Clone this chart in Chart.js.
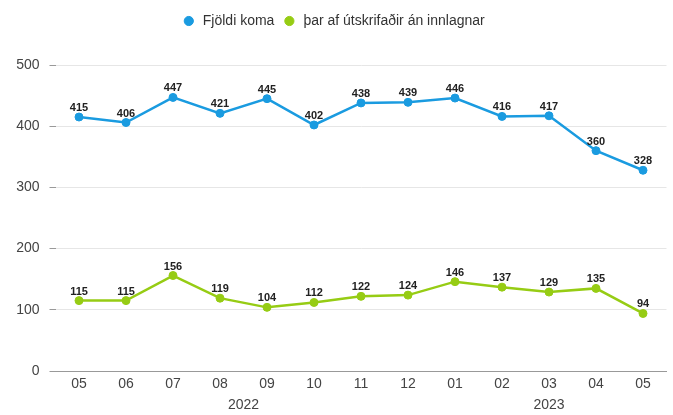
<!DOCTYPE html>
<html>
<head>
<meta charset="utf-8">
<script src="https://cdn.jsdelivr.net/npm/chart.js@4.4.1/dist/chart.umd.min.js"></script>
<style>
html,body{margin:0;padding:0;background:#fff;}
#wrap{width:673px;height:415px;position:relative;}
</style>
</head>
<body>
<div id="wrap"><canvas id="c" width="673" height="415"></canvas></div>
<script>
const categories = ['05','06','07','08','09','10','11','12','01','02','03','04','05'];
const seriesNames = ['Fjöldi koma', 'þar af útskrifaðir án innlagnar'];
const visits = [415,406,447,421,445,402,438,439,446,416,417,360,328];
const discharged = [115,115,156,119,104,112,122,124,146,137,129,135,94];
const yearLabels = ['2022','2023'];
const yearStart = [0,8];
const yearEnd = [7,12];
const yTicks = [0,100,200,300,400,500];

const FONT = "'Liberation Sans', Arial, sans-serif";

const legendSpacer = {
  id:'legendSpacer',
  beforeInit(chart){
    const fit = chart.legend.fit;
    chart.legend.fit = function(){ fit.bind(chart.legend)(); this.height += 27; };
  }
};

const dataLabels = {
  id:'dataLabels',
  afterDatasetsDraw(chart){
    const ctx = chart.ctx;
    ctx.save();
    ctx.font = "bold 11px " + FONT;
    ctx.fillStyle = '#222';
    ctx.textAlign = 'center';
    ctx.textBaseline = 'alphabetic';
    chart.data.datasets.forEach((ds,i)=>{
      const meta = chart.getDatasetMeta(i);
      meta.data.forEach((pt,j)=>{
        ctx.fillText(String(ds.data[j]), pt.x, pt.y - 6);
      });
    });
    ctx.restore();
  }
};

const yearAxis = {
  id:'yearAxis',
  afterDraw(chart){
    const ctx = chart.ctx;
    const xs = chart.scales.x;
    ctx.save();
    ctx.font = "14px " + FONT;
    ctx.fillStyle = '#444';
    ctx.textAlign = 'center';
    ctx.textBaseline = 'middle';
    yearLabels.forEach((lab,i)=>{
      const x = (xs.getPixelForValue(yearStart[i]) + xs.getPixelForValue(yearEnd[i]))/2;
      ctx.fillText(lab, x, 405);
    });
    ctx.restore();
  }
};

new Chart(document.getElementById('c'), {
  type:'line',
  data:{
    labels: categories,
    datasets:[
      {label:seriesNames[0], data:visits, borderColor:'#1a9be0', backgroundColor:'#1a9be0',
       borderWidth:2.5, pointRadius:4, pointHoverRadius:4, pointBorderWidth:1, tension:0},
      {label:seriesNames[1], data:discharged, borderColor:'#96cc14', backgroundColor:'#96cc14',
       borderWidth:2.5, pointRadius:4, pointHoverRadius:4, pointBorderWidth:1, tension:0}
    ]
  },
  options:{
    responsive:false,
    animation:false,
    layout:{padding:{left:0,right:6.5,top:6,bottom:0}},
    plugins:{
      legend:{
        position:'top',
        labels:{
          usePointStyle:true, pointStyle:'circle', boxWidth:20, boxHeight:6.5,
          padding:8, color:'#333', font:{family:FONT, size:14}
        }
      },
      tooltip:{enabled:false}
    },
    scales:{
      x:{
        offset:true,
        grid:{display:false, drawTicks:false, offset:true},
        border:{display:true, color:'#999', width:1},
        ticks:{color:'#444', font:{family:FONT, size:14}, padding:5, autoSkip:false, maxRotation:0},
        afterFit(s){ s.height = 44; }
      },
      y:{
        min:0, max:500,
        afterBuildTicks(s){ s.ticks = yTicks.map(v=>({value:v})); },
        grid:{color:'#e6e6e6', tickColor:'#999', tickLength:6, drawTicks:true},
        border:{display:false},
        ticks:{color:'#444', font:{family:FONT, size:14}, padding:10},
        afterFit(s){ s.width = 55.5; }
      }
    }
  },
  plugins:[legendSpacer, dataLabels, yearAxis]
});
</script>
</body>
</html>
